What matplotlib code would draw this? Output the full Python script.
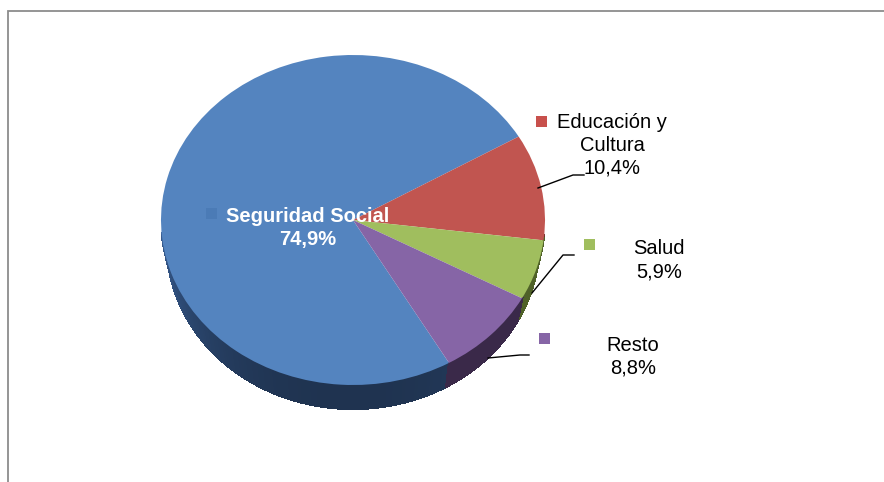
import matplotlib
matplotlib.use('Agg')
import matplotlib.pyplot as plt
import numpy as np
from matplotlib.collections import PolyCollection
from matplotlib.colors import to_rgb
from matplotlib.patches import Rectangle

plt.rcParams['font.family'] = ['Liberation Sans', 'DejaVu Sans']

labels = ['Seguridad Social', 'Educación y\nCultura', 'Salud', 'Resto']
values = [74.9, 10.4, 5.9, 8.8]
value_text = ['74,9%', '10,4%', '5,9%', '8,8%']
colors = ['#5484BF', '#C15550', '#A0BE5E', '#8665A6']
side_colors = ['#1F3350', '#6E2E2C', '#4F6128', '#3A2949']
side_fade = [0.9, 0, 0, 0]
key_colors = ['#4B7BB6', '#C8504C', '#A0BE5E', '#8665A6']

W, H = 884, 482
fig = plt.figure(figsize=(W / 100, H / 100), dpi=100)

# pie is squashed: the axes box is the top ellipse of the 3D look
left, right, top, bottom = 161, 545, 55, 385
depth = 24 / ((bottom - top) / 2)
base_scale = 0.97  # lower rim is a bit narrower
ax = fig.add_axes([left / W, (H - bottom) / H, (right - left) / W, (bottom - top) / H])
wedges, _ = ax.pie(values, colors=colors, startangle=-60, counterclock=False, radius=1,
                   wedgeprops={'linewidth': 0, 'zorder': 3})
ax.set_aspect('auto')
ax.set_xlim(-1, 1)
ax.set_ylim(-1, 1)

# side wall below the ellipse, darker towards the front
quads, quad_colors = [], []
for wedge, dark, fade in zip(wedges, side_colors, side_fade):
    angles = np.radians(np.arange(wedge.theta1, wedge.theta2 + 1, 1.0))
    for a, b in zip(angles[:-1], angles[1:]):
        # near the left and right ends the wall is hidden behind the top
        if np.sin((a + b) / 2) > -0.08:
            continue
        quads.append([(np.cos(a), np.sin(a)), (np.cos(b), np.sin(b)),
                      (base_scale * np.cos(b), np.sin(b) - depth),
                      (base_scale * np.cos(a), np.sin(a) - depth)])
        shade = 1 + fade * (1 - abs(np.sin((a + b) / 2))) ** 1.2
        quad_colors.append(np.clip(np.array(to_rgb(dark)) * shade, 0, 1))
ax.add_collection(PolyCollection(quads, facecolors=quad_colors, edgecolors=quad_colors,
                                 linewidths=0.8, antialiaseds=False, clip_on=False, zorder=2))

# overlay in pixel coordinates for frame, keys, leaders and labels
ov = fig.add_axes([0, 0, 1, 1], facecolor='none')
ov.set_xlim(0, W)
ov.set_ylim(H, 0)
ov.axis('off')

ov.plot([8, 8, W], [H, 11, 11], color='#8C8C8C', lw=1.3, solid_joinstyle='miter')

key_pos = [(206, 208), (536, 116), (584, 239), (539, 333)]
for (kx, ky), c in zip(key_pos, key_colors):
    ov.add_patch(Rectangle((kx, ky), 11, 11, facecolor=c, edgecolor='none'))

leaders = [([538, 573, 584], [188, 175, 175]),
           ([532, 563, 574], [293, 255, 255]),
           ([488, 520, 529], [358, 355, 355])]
for xs, ys in leaders:
    ov.plot(xs, ys, color='black', lw=1.0)

# x centre and first baseline of each label
text_pos = [(308, 222), (612, 128), (659, 254), (633, 351)]
line_gap = 23
for i, (lab, (tx, ty)) in enumerate(zip(labels, text_pos)):
    lines = lab.split('\n') + [value_text[i]]
    for j, line in enumerate(lines):
        ov.text(tx, ty + j * line_gap, line, ha='center', va='baseline', fontsize=14.5,
                color='white' if i == 0 else 'black', fontweight='bold' if i == 0 else 'normal')

fig.savefig('out.png', dpi=100, facecolor='white')
